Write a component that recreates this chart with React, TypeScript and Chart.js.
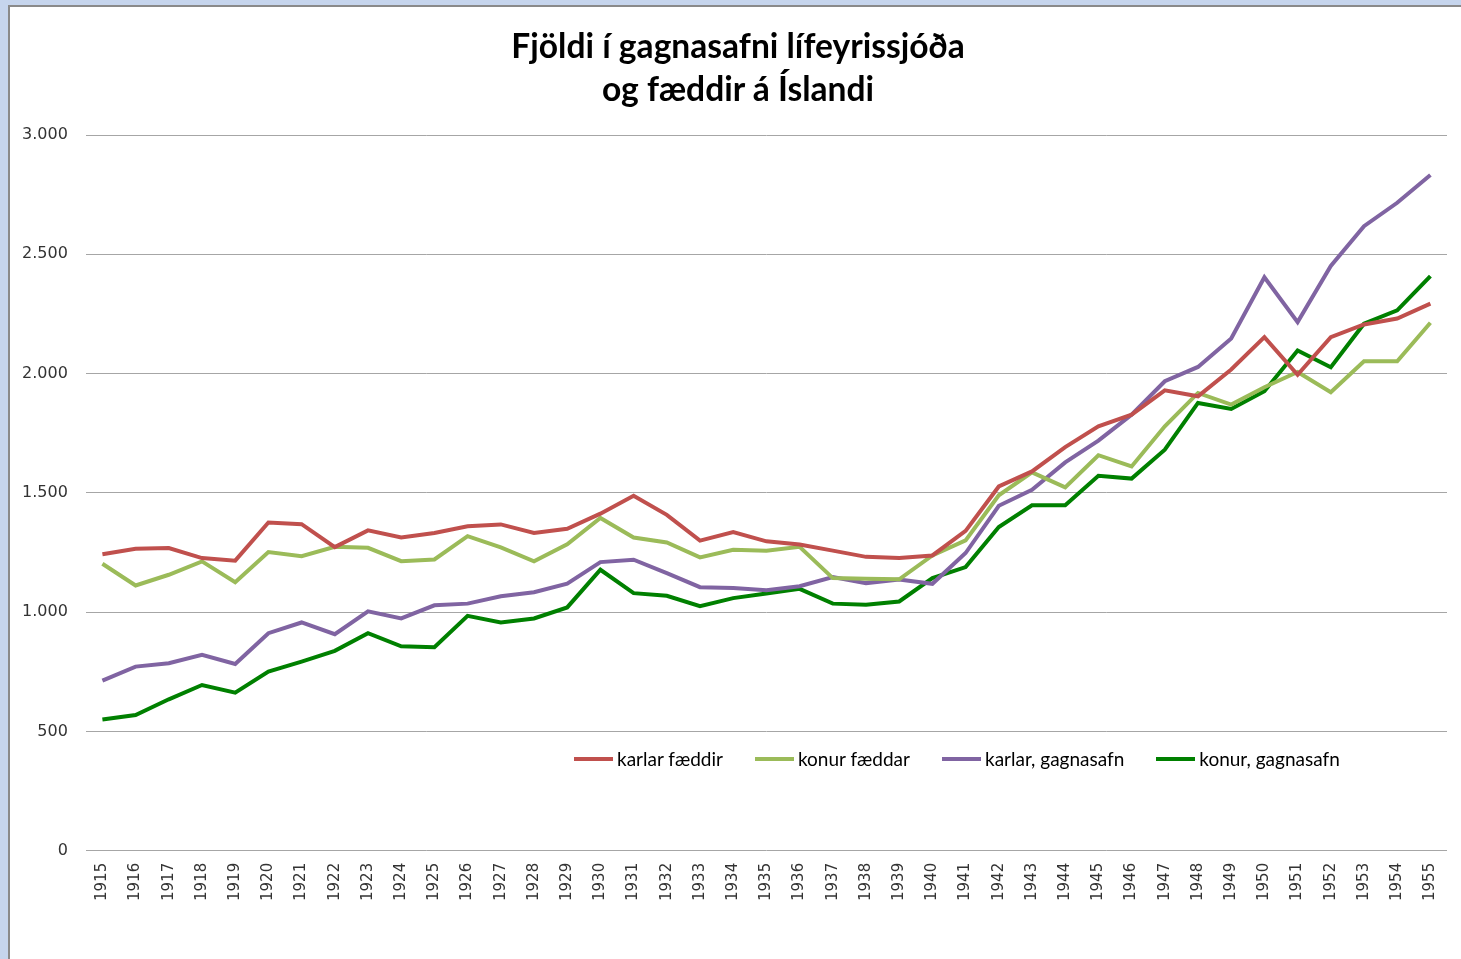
import React, { useEffect, useRef } from "react";
import { Chart, registerables } from "chart.js";

Chart.register(...registerables);

const years = [
  "1915","1916","1917","1918","1919","1920","1921","1922","1923","1924","1925","1926","1927","1928",
  "1929","1930","1931","1932","1933","1934","1935","1936","1937","1938","1939","1940","1941","1942",
  "1943","1944","1945","1946","1947","1948","1949","1950","1951","1952","1953","1954","1955",
];

const karlarFaeddir = [
  1243, 1266, 1269, 1227, 1216, 1376, 1369, 1273, 1343, 1313, 1332, 1360, 1368, 1332, 1350,
  1413, 1488, 1408, 1300, 1336, 1297, 1284, 1258, 1232, 1227, 1238,
  1341, 1527, 1590, 1692, 1779, 1828, 1930, 1905, 2017, 2153, 1995, 2153, 2206, 2231, 2293,
];

const konurFaeddar = [
  1203, 1112, 1157, 1213, 1126, 1252, 1235, 1274, 1270, 1214, 1221, 1319, 1272, 1213, 1285,
  1395, 1313, 1292, 1230, 1262, 1258, 1274, 1143, 1140, 1138, 1238,
  1301, 1490, 1586, 1523, 1658, 1611, 1779, 1919, 1870, 1943, 2007, 1922, 2052, 2052, 2213,
];

const karlarGagnasafn = [
  713, 772, 786, 821, 783, 912, 957, 908, 1004, 974, 1029, 1036, 1067, 1084, 1120,
  1210, 1220, 1164, 1105, 1101, 1092, 1109, 1147, 1122, 1137, 1119,
  1248, 1446, 1513, 1628, 1719, 1828, 1968, 2028, 2147, 2404, 2216, 2451, 2618, 2716, 2832,
];

const konurGagnasafn = [
  550, 569, 635, 695, 663, 751, 793, 838, 912, 857, 853, 985, 957, 974, 1020,
  1178, 1080, 1069, 1025, 1059, 1078, 1098, 1036, 1031, 1045, 1143,
  1189, 1357, 1448, 1448, 1572, 1560, 1681, 1877, 1852, 1926, 2097, 2027, 2209, 2265, 2409,
];

const seriesNames = ["karlar fæddir", "konur fæddar", "karlar, gagnasafn", "konur, gagnasafn"];
const seriesColors = ["#c0504d", "#9bbb59", "#8064a2", "#008000"];
const titleLines = ["Fjöldi í gagnasafni lífeyrissjóða", "og fæddir á Íslandi"];

const fmt = (v: number) => String(v).replace(/\B(?=(\d{3})+(?!\d))/g, ".");

export default function App() {
  const ref = useRef<HTMLCanvasElement | null>(null);

  useEffect(() => {
    if (!ref.current) return;
    const values = [karlarFaeddir, konurFaeddar, karlarGagnasafn, konurGagnasafn];
    const chart = new Chart(ref.current, {
      type: "line",
      data: {
        labels: years,
        datasets: values.map((d, i) => ({
          label: seriesNames[i],
          data: d,
          borderColor: seriesColors[i],
          backgroundColor: seriesColors[i],
          borderWidth: 4,
          pointRadius: 0,
          tension: 0,
          fill: false,
        })),
      },
      options: {
        animation: false,
        responsive: false,
        maintainAspectRatio: false,
        layout: { padding: { left: -6, right: 14, top: 128, bottom: 46 } },
        plugins: {
          legend: { display: false },
          tooltip: { enabled: false },
          title: { display: false },
        },
        scales: {
          x: {
            offset: true,
            grid: { display: false, drawTicks: false },
            border: { display: false },
            ticks: {
              color: "#333",
              font: { family: "'DejaVu Sans'", size: 15 },
              minRotation: 90,
              maxRotation: 90,
              autoSkip: false,
              padding: 12,
            },
          },
          y: {
            min: 0,
            max: 3000,
            grid: { color: "#a6a6a6", lineWidth: 1, drawTicks: false },
            border: { display: false },
            ticks: {
              stepSize: 500,
              color: "#333",
              font: { family: "'DejaVu Sans'", size: 16 },
              padding: 18,
              callback: (v: any) => fmt(Number(v)),
            },
          },
        },
      },
    });
    return () => chart.destroy();
  }, []);

  return (
    <div style={{ position: "fixed", left: 0, top: 0, width: 1461, height: 959, background: "#c6d5ed", overflow: "hidden" }}>
      <div
        style={{
          position: "absolute",
          left: 8,
          top: 5,
          width: 1470,
          height: 970,
          borderLeft: "2px solid #8a8a8a",
          borderTop: "2px solid #8a8a8a",
          background: "#fff",
        }}
      >
        <canvas ref={ref} width={1451} height={952} style={{ display: "block" }} />
        <div
          style={{
            position: "absolute",
            left: 0,
            top: 17,
            width: 1456,
            textAlign: "center",
            fontFamily: "Lato",
            fontWeight: "bold",
            fontSize: 33.6,
            lineHeight: "43px",
            color: "#000",
          }}
        >
          {titleLines.map((t) => (
            <div key={t}>{t}</div>
          ))}
        </div>
        <div
          style={{
            position: "absolute",
            left: 564,
            top: 740,
            display: "flex",
            alignItems: "center",
            fontFamily: "Lato",
            fontSize: 19,
            color: "#000",
            whiteSpace: "nowrap",
          }}
        >
          {seriesNames.map((n, i) => (
            <div key={n} style={{ display: "flex", alignItems: "center", marginRight: i < 3 ? 32 : 0 }}>
              <span style={{ display: "inline-block", width: 39, height: 4, background: seriesColors[i], marginRight: 4 }} />
              <span>{n}</span>
            </div>
          ))}
        </div>
      </div>
    </div>
  );
}
